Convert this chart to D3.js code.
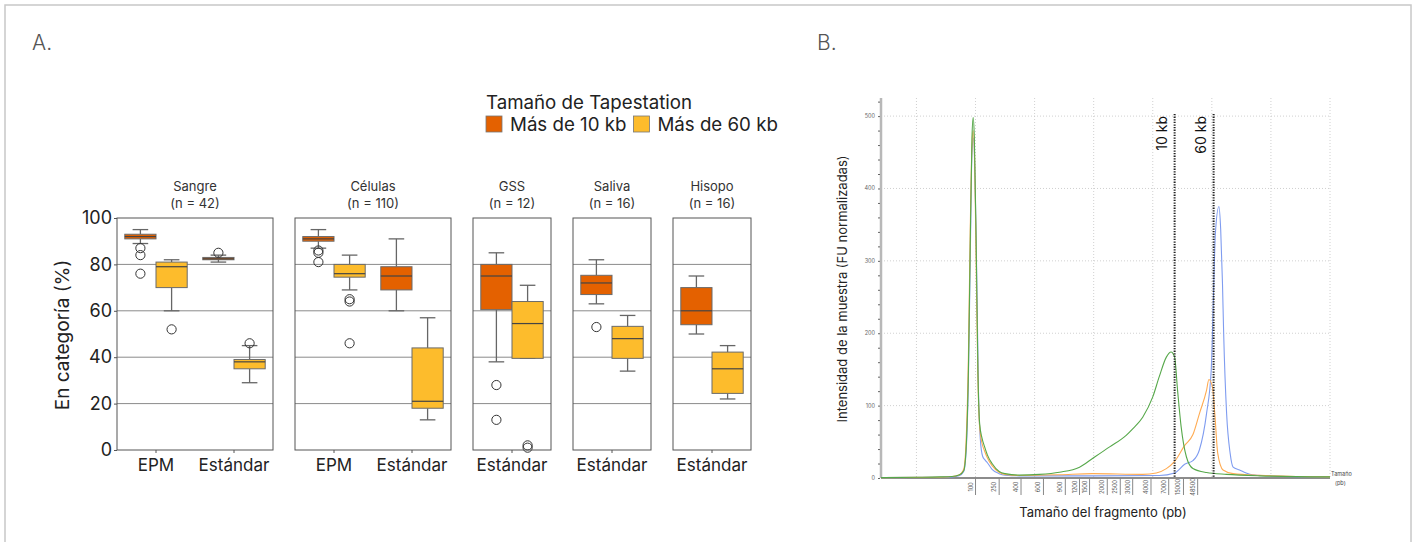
<!DOCTYPE html>
<html>
<head>
<meta charset="utf-8">
<script src="https://cdn.jsdelivr.net/npm/d3@7"></script>
<style>
  body { margin: 0; background: #fff; }
  svg { display: block; font-family: Inter, "Noto Sans", sans-serif; }
</style>
</head>
<body>
<svg id="chart" width="1416" height="542"></svg>
<script>
// ---- panel A data ----
const panels = ["Sangre", "Células", "GSS", "Saliva", "Hisopo"];
const panelN = [42, 110, 12, 16, 16];
const panelCats = [["EPM", "Estándar"], ["EPM", "Estándar"], ["Estándar"], ["Estándar"], ["Estándar"]];
const sizes = ["Más de 10 kb", "Más de 60 kb"];
const yTicksA = [0, 20, 40, 60, 80, 100];

// panel, category, size, whisker low, q1, median, q3, whisker high
const boxStats = [
  ["Sangre", "EPM", "Más de 10 kb", 89, 91, 92, 93, 95],
  ["Sangre", "EPM", "Más de 60 kb", 60, 70, 79, 81, 82],
  ["Sangre", "Estándar", "Más de 10 kb", 81, 82, 82.4, 83, 84],
  ["Sangre", "Estándar", "Más de 60 kb", 29, 35, 38, 39, 45],
  ["Células", "EPM", "Más de 10 kb", 87, 90, 91, 92, 95],
  ["Células", "EPM", "Más de 60 kb", 69, 74.5, 76, 80, 84],
  ["Células", "Estándar", "Más de 10 kb", 60, 69, 75, 79, 91],
  ["Células", "Estándar", "Más de 60 kb", 13, 18, 21, 44, 57],
  ["GSS", "Estándar", "Más de 10 kb", 38, 60.5, 75, 80, 85],
  ["GSS", "Estándar", "Más de 60 kb", 39.5, 39.5, 54.5, 64, 71],
  ["Saliva", "Estándar", "Más de 10 kb", 63, 67, 72, 75.3, 82],
  ["Saliva", "Estándar", "Más de 60 kb", 34, 39.5, 48, 53.3, 58],
  ["Hisopo", "Estándar", "Más de 10 kb", 50, 54, 60, 70, 75],
  ["Hisopo", "Estándar", "Más de 60 kb", 22, 24.4, 35, 42.2, 45]
];
const outliers = [
  ["Sangre", "EPM", "Más de 10 kb", [87, 84, 76]],
  ["Sangre", "EPM", "Más de 60 kb", [52]],
  ["Sangre", "Estándar", "Más de 10 kb", [85]],
  ["Sangre", "Estándar", "Más de 60 kb", [46]],
  ["Células", "EPM", "Más de 10 kb", [86, 85, 81]],
  ["Células", "EPM", "Más de 60 kb", [65, 64, 46]],
  ["GSS", "Estándar", "Más de 10 kb", [28, 13]],
  ["GSS", "Estándar", "Más de 60 kb", [2, 1]],
  ["Saliva", "Estándar", "Más de 10 kb", [53]]
];

// ---- panel B data (x in run units, y in FU) ----
const ladderBp = [100, 250, 400, 600, 900, 1200, 1500, 2000, 2500, 3000, 4000, 7000, 15000, 48500];
const ladderPos = [20, 24, 27.7, 31.5, 35.2, 37.6, 39.3, 42.3, 44.5, 46.6, 49.7, 52.7, 55.2, 57.6];
const cutLabels = ["10 kb", "60 kb"];
const cutPos = [53.7, 60.3];
const yTicksB = [0, 100, 200, 300, 400, 500];

const traceBlue = [[4,0.5],[14,1],[16,1.5],[17.2,3],[18,9],[18.4,35],[18.8,140],[19.1,300],[19.4,450],[19.65,470],[19.9,420],[20.2,280],[20.5,120],[20.8,55],[21.2,30],[21.6,25],[22.1,20],[22.8,12],[24,6],[25,4],[27.4,3],[40,3],[51.1,3.5],[53.7,7],[55.4,19],[56.8,24],[57.9,39],[59.1,89],[59.9,150],[60.3,259],[60.6,338],[61.2,375],[61.5,343],[61.8,269],[62,200],[62.5,89],[63.1,34],[63.6,15],[64.7,11],[65.8,7],[66.9,4.5],[70.9,2.5],[80,1.5]];
const traceOrange = [[4,0.5],[14,1],[16,2],[17.2,4],[18,12],[18.4,50],[18.8,170],[19.1,340],[19.4,460],[19.6,480],[19.85,440],[20.1,300],[20.4,140],[20.7,70],[21.1,48],[21.5,38],[22,28],[22.8,17],[24,8],[25,5],[27.4,3.5],[34.2,4.5],[39.8,6],[48.3,5],[50.6,7],[52.3,13],[53.7,23],[55.4,45],[56.8,60],[57.9,89],[59.1,121],[59.5,136],[60.1,126],[60.5,89],[61,34],[61.9,11],[63.6,6],[68.1,3.7],[80,1.5]];
const traceGreen = [[4,0.5],[10,1],[14,1.5],[16,2],[17.2,4],[18,10],[18.4,40],[18.8,150],[19.1,320],[19.4,470],[19.6,498],[19.8,470],[20.1,330],[20.4,150],[20.7,75],[21.1,55],[21.5,44],[22,32],[22.8,20],[24,9],[25,6],[27.4,4],[30.8,5],[34.2,8],[37.6,15],[39.8,27],[42.7,43],[45.5,59],[46.6,68],[48.3,84],[50,112],[51.1,140],[52.3,167],[53.1,174],[53.7,167],[54.2,121],[54.8,71],[55.7,29],[56.8,13],[59.1,7.5],[62.5,5],[68.1,3],[80,1.5]];

const svg = d3.select("#chart");

// outer frame and panel letters
svg.append("rect").attr("x", 5).attr("y", 5).attr("width", 1406).attr("height", 580)
  .attr("fill", "none").attr("stroke", "#c8c8c8").attr("stroke-width", 1.5);
svg.append("text").attr("x", 32).attr("y", 50).attr("font-size", 21).attr("font-weight", 300)
  .attr("fill", "#555").text("A.");
svg.append("text").attr("x", 817).attr("y", 50).attr("font-size", 21).attr("font-weight", 300)
  .attr("fill", "#555").text("B.");

// ================= PANEL A =================
const colors = d3.scaleOrdinal().domain(sizes).range(["#E46100", "#FDBC2C"]);
const yA = d3.scaleLinear().domain([0, 100]).range([450, 218]);
const catW = 78, gap = 22, startX = 117;

// legend
const leg = svg.append("g");
leg.append("text").attr("x", 486).attr("y", 109).attr("font-size", 18.7).attr("fill", "#222")
  .text("Tamaño de Tapestation");
let lx = 486;
sizes.forEach(s => {
  leg.append("rect").attr("x", lx).attr("y", 116).attr("width", 16).attr("height", 16)
    .attr("fill", colors(s)).attr("stroke", "#777").attr("stroke-width", 0.8);
  const t = leg.append("text").attr("x", lx + 24).attr("y", 131).attr("font-size", 18.7)
    .attr("fill", "#222").text(s);
  lx += 24 + t.node().getComputedTextLength() + 7;
});

// y axis title + ticks
svg.append("text").attr("transform", `translate(69,335) rotate(-90)`)
  .attr("text-anchor", "middle").attr("font-size", 19).attr("fill", "#222").text("En categoría (%)");
svg.append("g").attr("transform", `translate(${startX},0)`)
  .call(d3.axisLeft(yA).tickValues(yTicksA).tickSize(3).tickPadding(2))
  .call(g => g.select(".domain").remove())
  .call(g => g.selectAll("line").attr("stroke", "#555"))
  .call(g => g.selectAll("text").attr("font-size", 18).attr("fill", "#222").attr("font-family", "Inter"));

let px0 = startX;
panels.forEach((p, i) => {
  const cats = panelCats[i];
  const w = cats.length * catW;
  const xCat = d3.scaleBand().domain(cats).range([px0, px0 + w]);
  const xSub = d3.scaleBand().domain(sizes).range([0, catW]).paddingOuter(0.25).paddingInner(0);
  const g = svg.append("g");

  // grid
  g.selectAll("line.grid").data([20, 40, 60, 80]).join("line")
    .attr("x1", px0).attr("x2", px0 + w).attr("y1", d => yA(d)).attr("y2", d => yA(d))
    .attr("stroke", "#8a8a8a").attr("stroke-width", 1);

  // strip labels
  g.append("text").attr("x", px0 + w / 2).attr("y", 191).attr("text-anchor", "middle")
    .attr("font-size", 13).attr("fill", "#333").text(p);
  g.append("text").attr("x", px0 + w / 2).attr("y", 208).attr("text-anchor", "middle")
    .attr("font-size", 13).attr("fill", "#333").text(`(n = ${panelN[i]})`);

  // x axis
  g.append("g").attr("transform", `translate(0,${yA(0)})`)
    .call(d3.axisBottom(xCat).tickSize(3).tickPadding(6))
    .call(a => a.select(".domain").remove())
    .call(a => a.selectAll("line").attr("stroke", "#555"))
    .call(a => a.selectAll("text").attr("font-size", 17).attr("fill", "#222").attr("font-family", "Inter"));

  // boxes
  const rows = boxStats.filter(r => r[0] === p);
  rows.forEach(r => {
    const [, cat, size, lo, q1, med, q3, hi] = r;
    const bx = xCat(cat) + xSub(size);
    const bw = xSub.bandwidth();
    const cx = bx + bw / 2;
    const bg = g.append("g");
    bg.append("line").attr("x1", cx).attr("x2", cx).attr("y1", yA(hi)).attr("y2", yA(q3))
      .attr("stroke", "#666").attr("stroke-width", 1.3);
    bg.append("line").attr("x1", cx).attr("x2", cx).attr("y1", yA(q1)).attr("y2", yA(lo))
      .attr("stroke", "#666").attr("stroke-width", 1.3);
    [hi, lo].forEach(v => bg.append("line").attr("x1", cx - bw / 4).attr("x2", cx + bw / 4)
      .attr("y1", yA(v)).attr("y2", yA(v)).attr("stroke", "#666").attr("stroke-width", 1.3));
    bg.append("rect").attr("x", bx).attr("y", yA(q3)).attr("width", bw)
      .attr("height", Math.max(yA(q1) - yA(q3), 1))
      .attr("fill", colors(size)).attr("stroke", "#6b6b6b").attr("stroke-width", 1);
    bg.append("line").attr("x1", bx).attr("x2", bx + bw).attr("y1", yA(med)).attr("y2", yA(med))
      .attr("stroke", "#444").attr("stroke-width", 1.2);
  });

  outliers.filter(o => o[0] === p).forEach(o => {
    const cx = xCat(o[1]) + xSub(o[2]) + xSub.bandwidth() / 2;
    g.selectAll(null).data(o[3]).join("circle")
      .attr("cx", cx).attr("cy", d => yA(d)).attr("r", 4.6)
      .attr("fill", "none").attr("stroke", "#333").attr("stroke-width", 1);
  });

  // panel border
  g.append("rect").attr("x", px0).attr("y", yA(100)).attr("width", w).attr("height", yA(0) - yA(100))
    .attr("fill", "none").attr("stroke", "#555").attr("stroke-width", 1);

  px0 += w + gap;
});

// ================= PANEL B =================
const bL = 881, bR = 1330, bT = 98, bB = 478;
const xB = d3.scaleLinear().domain([4, 80]).range([bL, bR]);
const yB = d3.scaleLinear().domain([0, 525]).range([bB, bT]);
const gb = svg.append("g");

// dotted grid
gb.selectAll("line.hg").data(yTicksB.slice(1)).join("line")
  .attr("x1", bL).attr("x2", bR).attr("y1", d => yB(d)).attr("y2", d => yB(d))
  .attr("stroke", "#c4c4c4").attr("stroke-width", 0.8).attr("stroke-dasharray", "1,2");
gb.selectAll("line.vg").data(d3.range(10, 81, 10)).join("line")
  .attr("x1", d => xB(d)).attr("x2", d => xB(d)).attr("y1", bT).attr("y2", bB)
  .attr("stroke", "#c4c4c4").attr("stroke-width", 0.8).attr("stroke-dasharray", "1,2");

// y axis
gb.append("line").attr("x1", bL).attr("x2", bL).attr("y1", bT).attr("y2", bB)
  .attr("stroke", "#b8b8b8").attr("stroke-width", 2.5);
gb.append("g").attr("transform", `translate(${bL - 1},0)`)
  .call(d3.axisLeft(yB).tickValues(d3.range(0, 521, 20)).tickSize(2).tickFormat(""))
  .call(a => a.select(".domain").remove())
  .call(a => a.selectAll("line").attr("stroke", "#666"));
gb.selectAll("text.yl").data(yTicksB).join("text")
  .attr("x", bL - 6).attr("y", d => yB(d) + 2).attr("text-anchor", "end")
  .attr("font-size", 5.5).attr("fill", "#666").text(d => d);

// x axis with ladder
gb.append("line").attr("x1", bL).attr("x2", bR).attr("y1", bB).attr("y2", bB)
  .attr("stroke", "#666").attr("stroke-width", 1.5);
gb.selectAll("line.lt").data(ladderPos).join("line")
  .attr("x1", d => xB(d)).attr("x2", d => xB(d)).attr("y1", bB).attr("y2", bB + 17)
  .attr("stroke", "#888").attr("stroke-width", 1);
gb.selectAll("text.ll").data(ladderBp).join("text")
  .attr("transform", (d, i) => `translate(${xB(ladderPos[i]) - 3},${bB + 9}) rotate(-90)`)
  .attr("text-anchor", "middle").attr("font-size", 5.5).attr("fill", "#555").text(d => d);
gb.append("text").attr("x", bR + 1).attr("y", bB - 2).attr("font-size", 5.5).attr("fill", "#444").text("Tamaño");
gb.append("text").attr("x", bR + 5).attr("y", bB + 7).attr("font-size", 5.5).attr("fill", "#444").text("(pb)");

// traces
const line = d3.line().x(d => xB(d[0])).y(d => yB(d[1])).curve(d3.curveMonotoneX);
[[traceBlue, "#7f9cf0"], [traceOrange, "#ffab52"], [traceGreen, "#56a84a"]].forEach(([t, c]) => {
  gb.append("path").attr("d", line(t)).attr("fill", "none").attr("stroke", c).attr("stroke-width", 1.1);
});

// cut lines
cutPos.forEach((u, i) => {
  gb.append("line").attr("x1", xB(u)).attr("x2", xB(u)).attr("y1", 114).attr("y2", bB)
    .attr("stroke", "#222").attr("stroke-width", 2).attr("stroke-dasharray", "1.3,1.3");
  gb.append("text").attr("transform", `translate(${xB(u) - 8},116) rotate(-90)`)
    .attr("text-anchor", "end").attr("font-size", 14).attr("fill", "#111").text(cutLabels[i]);
});

// axis titles
gb.append("text").attr("transform", "translate(847,289) rotate(-90)").attr("text-anchor", "middle")
  .attr("font-size", 13).attr("fill", "#222").text("Intensidad de la muestra (FU normalizadas)");
gb.append("text").attr("x", 1103).attr("y", 517).attr("text-anchor", "middle")
  .attr("font-size", 13).attr("fill", "#222").text("Tamaño del fragmento (pb)");
</script>
</body>
</html>
